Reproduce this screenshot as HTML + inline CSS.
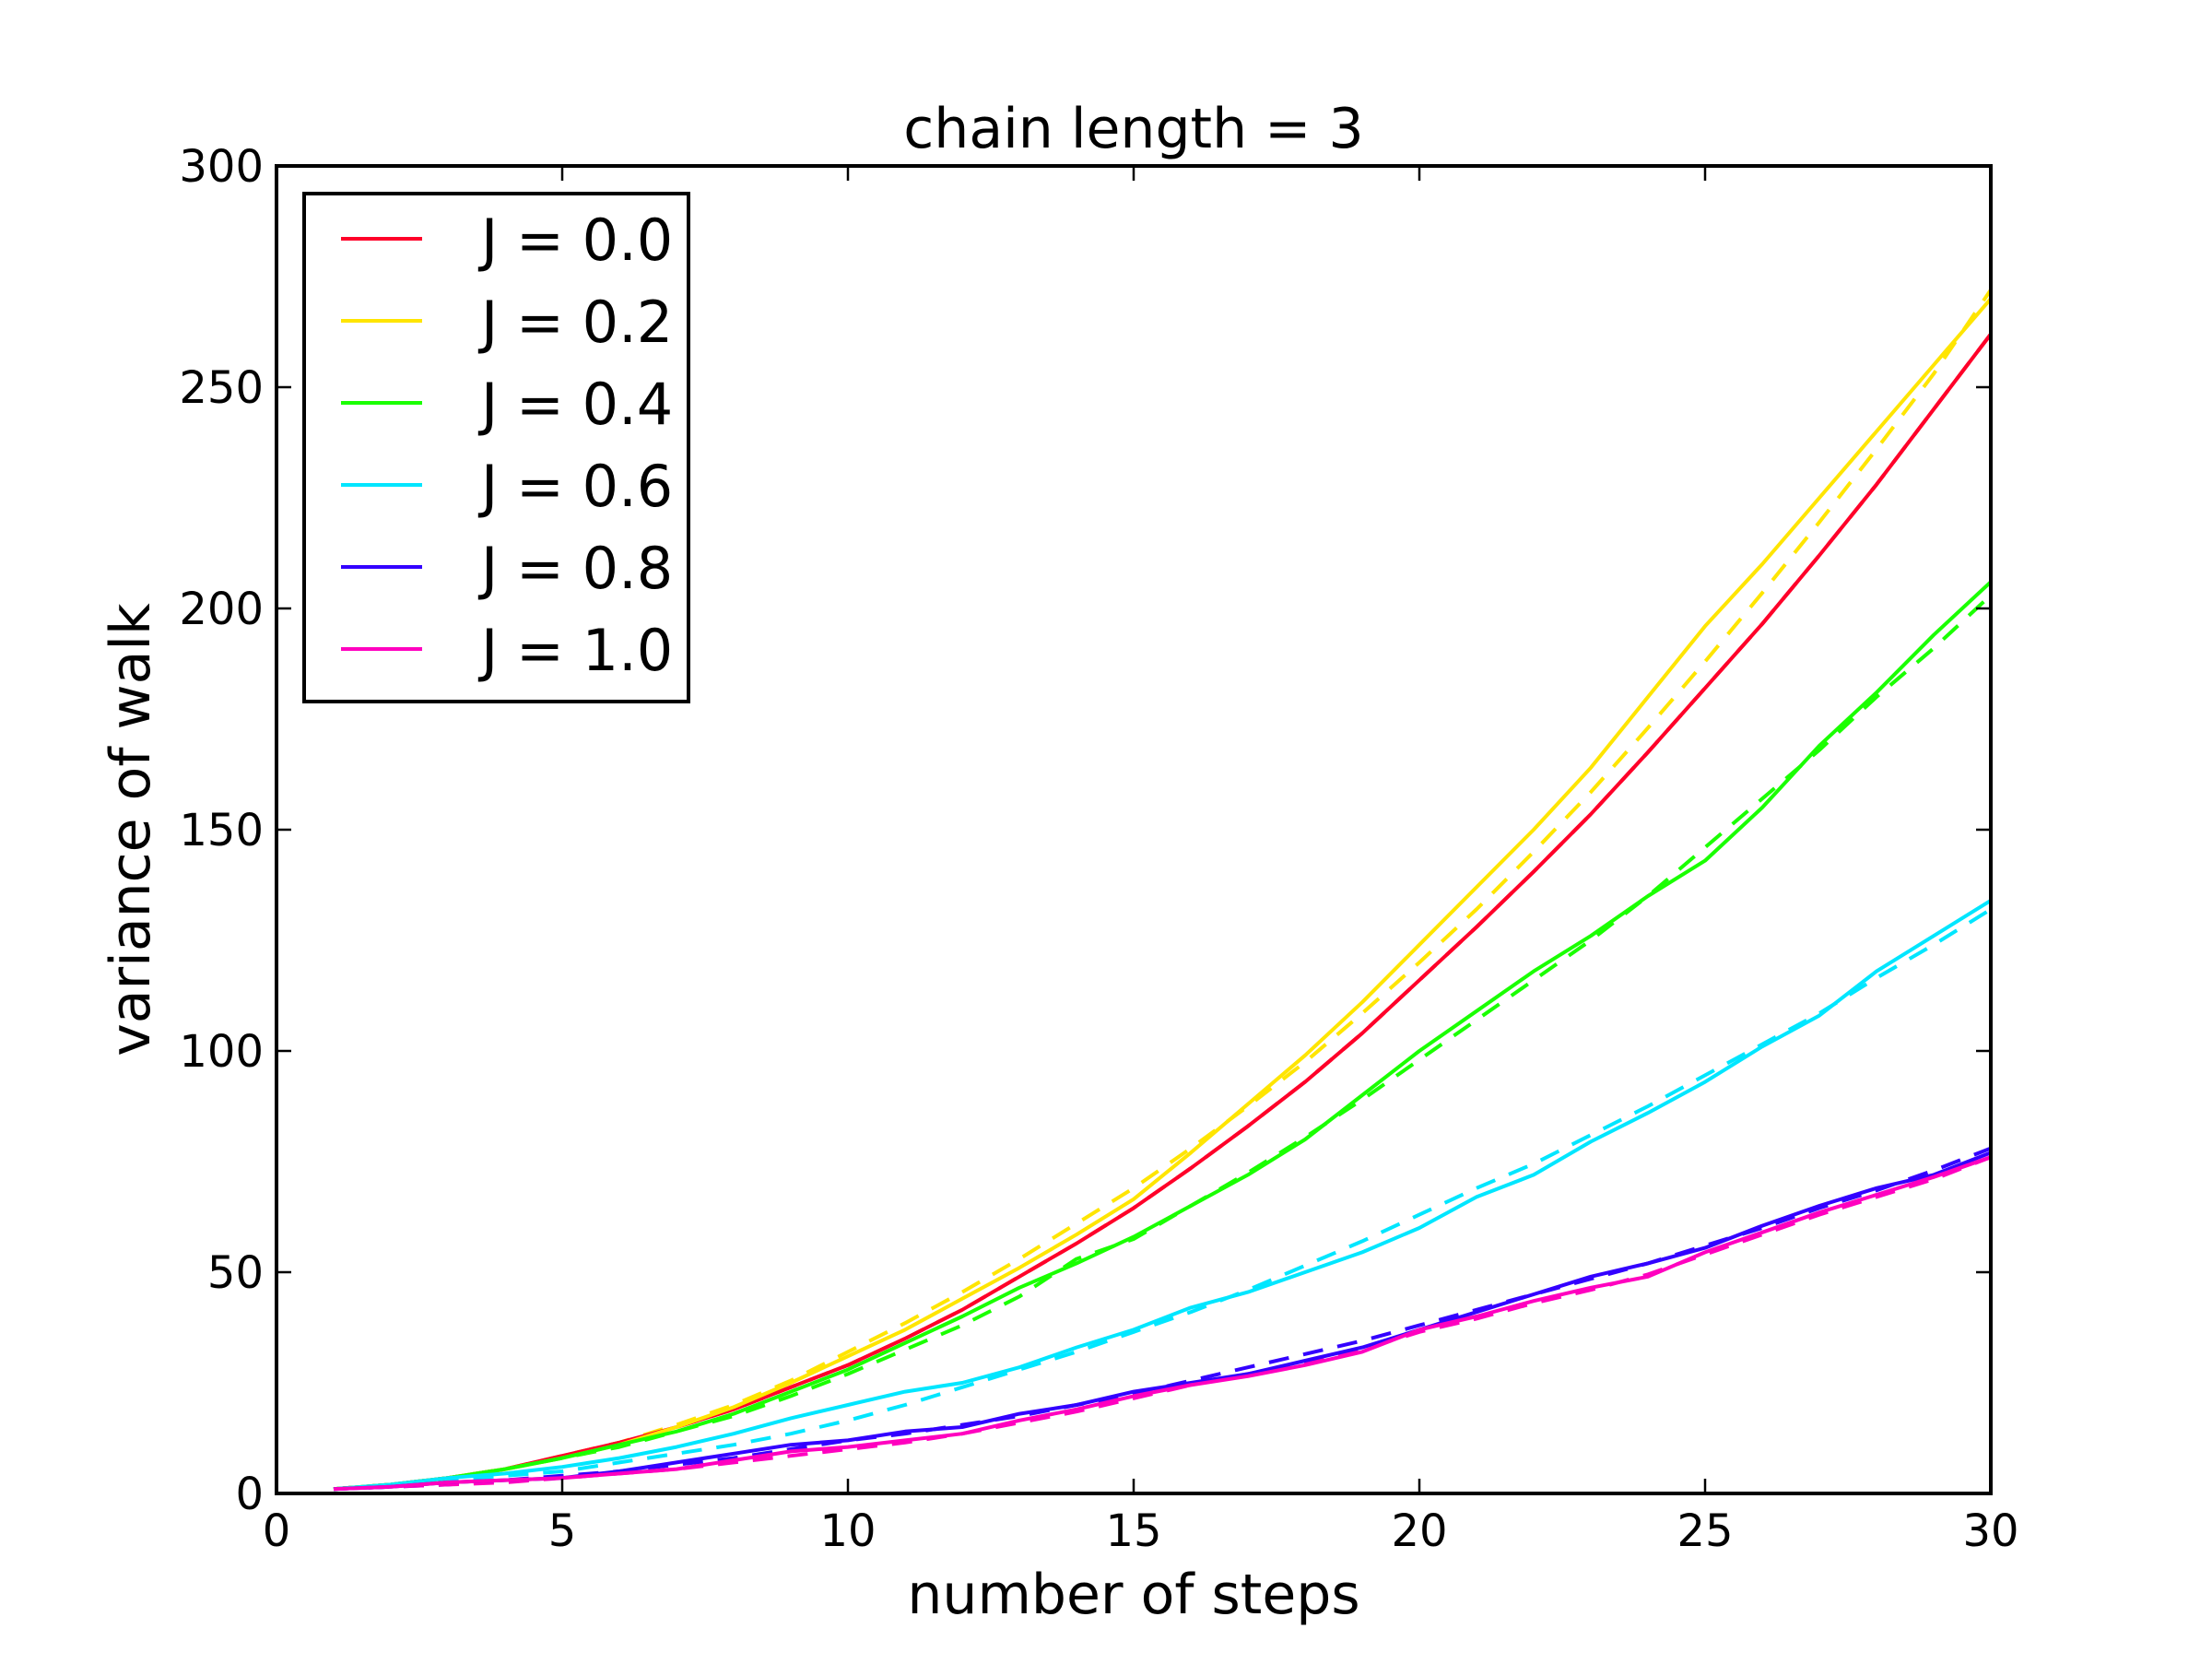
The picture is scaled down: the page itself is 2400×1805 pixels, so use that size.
<!DOCTYPE html>
<html><head><meta charset="utf-8"><style>
html,body{margin:0;padding:0;background:#fff;}
svg text{font-family:"DejaVu Sans","Liberation Sans",sans-serif;fill:#000;}
</style></head><body>
<svg id="chart" width="2400" height="1800" viewBox="0 0 2400 1800" xmlns="http://www.w3.org/2000/svg">
<rect width="2400" height="1800" fill="#fff"/>
<g id="lines"></g>
<g id="axes"></g>
<text x="1230" y="160" font-size="60" text-anchor="middle">chain length = 3</text>
<text x="1230" y="1750" font-size="60" text-anchor="middle">number of steps</text>
<text transform="translate(162,900) rotate(-90)" font-size="60" text-anchor="middle">variance of walk</text>
<g id="legend"></g>
</svg>
<script>
const steps = [1,2,3,4,5,6,7,8,9,10,11,12,13,14,15,16,17,18,19,20,21,22,23,24,25,26,27,28,29,30];
const seriesLabels = ["J = 0.0","J = 0.2","J = 0.4","J = 0.6","J = 0.8","J = 1.0"];
const seriesColors = ["#ff0029","#ffe500","#1aff00","#00e6ff","#3300ff","#ff00bf"];
const solidJ00 = [1,2,3.5,5.5,8.5,11.5,15,19,24,29,35,41.5,49,56.5,64.5,73.5,83,93,104,116,128,140.5,153.5,167.5,182,196.5,212,228,245,262];
const solidJ02 = [1,2,3.5,5.5,8,11,15,19.5,25,31,37,44,51,58.5,66.5,77,88,99,111,124,137,150,164,180,196,210,225,240,255,270];
const solidJ04 = [1,2,3.5,5.5,8,11,14,18,23,28,34,40,46.5,52,58,65,72,80,90,100,109,118,126,135,143,155,169,181,194,206];
const solidJ06 = [1,2,3.5,4.5,6,8,10.5,13.5,17,20,23,25,28.5,33,37,42,45.5,50,54.5,60,67,72,79.5,86,93,101,108,118,126,134];
const solidJ08 = [1,1.5,2.5,3,3.5,5,7,9,11,12,14,15,18,20,23,25,27,30,33,37,41,45,49,52,55.5,60.5,65,69,72,77];
const solidJ10 = [1,1.5,2.5,3,3.5,4.5,5.5,7.5,9.5,10.5,12,13.5,16.5,19,22,24.5,26.5,29,32,37,40,43.5,46.5,49,54.5,59,63.5,67.5,71.5,76];
const dashedJ00 = [1,2,3.5,5.5,8.5,11.5,15,19,24,29,35,41.5,49,56.5,64.5,73.5,83,93,104,116,128,140.5,153.5,167.5,182,196.5,212,228,245,262];
const dashedJ02 = [1,2,3.5,5.5,8.5,11.5,15.5,20,25.5,32,38.5,45.5,53,61,69,78,87.5,97.5,108.5,120,132,145,158.5,173,188,203.5,219.5,236,253,272];
const dashedJ04 = [1,2,3.5,5.5,8,10.5,14,17.5,22,27,32.5,38,44.5,53,57.5,65,72.5,80.5,89,98,107,116,125,135,146,157,168,180,191,203];
const dashedJ06 = [1,2,3,4,5,7,9,11,13.5,16.5,20,24,28,32,36.5,41,46,51.5,57,63,69,74.5,81,87.5,94.5,101.5,108.5,116.5,124,132];
const dashedJ08 = [1,1.5,2,3,4,5,6.5,8,10,12,13.5,15.5,17.5,20,22.5,25.5,28.5,31.5,34.5,38,41.5,45,48.5,52,56,60,64.5,68.5,73,78];
const dashedJ10 = [1,1.5,2,2.5,3.5,4.5,5.5,7,8.5,10,11.5,13.5,16,18.5,21.5,24.5,27,29.5,32.5,36.5,39.5,43,46,49.5,54,58.5,63,67,71,76];
const solidSeries = [solidJ00,solidJ02,solidJ04,solidJ06,solidJ08,solidJ10];
const dashedSeries = [dashedJ00,dashedJ02,dashedJ04,dashedJ06,dashedJ08,dashedJ10];
const xTicks = [0,5,10,15,20,25,30];
const yTicks = [0,50,100,150,200,250,300];

const NS="http://www.w3.org/2000/svg";
const L=300,R=2160,T=180,B=1620;
const xMin=0,xMax=30,yMin=0,yMax=300;
function sx(v){return L+(v-xMin)/(xMax-xMin)*(R-L);}
function sy(v){return B-(v-yMin)/(yMax-yMin)*(B-T);}
function mk(tag,attrs,parent){const e=document.createElementNS(NS,tag);for(const k in attrs)e.setAttribute(k,attrs[k]);parent.appendChild(e);return e;}

const lines=document.getElementById('lines');
function drawSeries(arr,color,dashed,name){
  const d=arr.map((v,i)=>(i?'L':'M')+sx(steps[i]).toFixed(1)+','+sy(v).toFixed(1)).join(' ');
  const p=mk('path',{d:d,fill:'none',stroke:color,'stroke-width':4,'stroke-linejoin':'round'},lines);
  if(dashed)p.setAttribute('stroke-dasharray','22,16');
  
  
}
for(let s=0;s<6;s++){
  drawSeries(dashedSeries[s],seriesColors[s],true,'dashed-line-'+s);
}
for(let s=0;s<6;s++){
  drawSeries(solidSeries[s],seriesColors[s],false,'solid-line-'+s);
}

const axes=document.getElementById('axes');
xTicks.forEach(v=>{
  const x=sx(v);
  const t1=mk('line',{x1:x,y1:B,x2:x,y2:B-16,stroke:'#000','stroke-width':2.5},axes);
  
  
  const t2=mk('line',{x1:x,y1:T,x2:x,y2:T+16,stroke:'#000','stroke-width':2.5},axes);
  
  
  const tx=mk('text',{x:x,y:1677,'font-size':48,'text-anchor':'middle'},axes);
  tx.textContent=v;
  
  
});
yTicks.forEach(v=>{
  const y=sy(v);
  const t1=mk('line',{x1:L,y1:y,x2:L+16,y2:y,stroke:'#000','stroke-width':2.5},axes);
  
  
  const t2=mk('line',{x1:R,y1:y,x2:R-16,y2:y,stroke:'#000','stroke-width':2.5},axes);
  
  
  const tx=mk('text',{x:286,y:y+17,'font-size':48,'text-anchor':'end'},axes);
  tx.textContent=v;
  
  
});
const frame=mk('rect',{x:L,y:T,width:R-L,height:B-T,fill:'none',stroke:'#000','stroke-width':4},axes);



const lg=document.getElementById('legend');
const box=mk('rect',{x:330,y:210,width:417,height:551,fill:'#fff',stroke:'#000','stroke-width':4},lg);


seriesLabels.forEach((lab,i)=>{
  const y=259+i*89;
  const ln=mk('line',{x1:370,y1:y,x2:458,y2:y,stroke:seriesColors[i],'stroke-width':4},lg);
  
  
  const tx=mk('text',{x:522,y:y+23,'font-size':62},lg);
  tx.textContent=lab;
  
  
});
</script>
</body></html>
